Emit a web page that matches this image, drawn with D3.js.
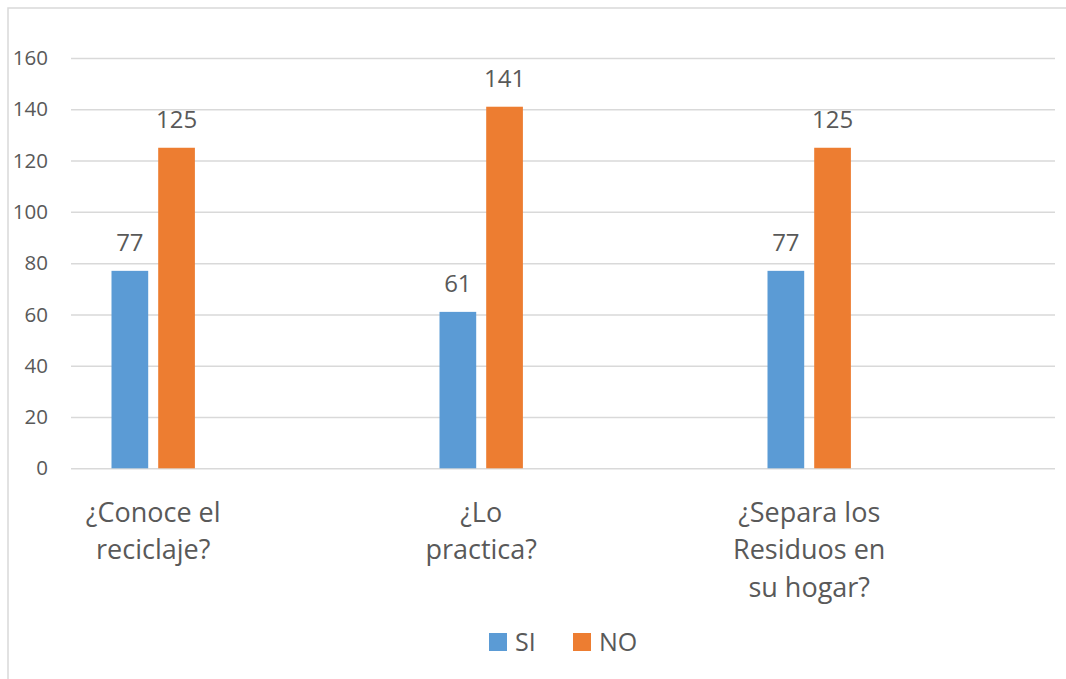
<!DOCTYPE html>
<html>
<head>
<meta charset="utf-8">
<script src="https://cdnjs.cloudflare.com/ajax/libs/d3/7.8.5/d3.min.js"></script>
<style>
  body { margin: 0; background: #fff; }
  svg text { font-family: "Open Sans", sans-serif; fill: #595959; }
</style>
</head>
<body>
<div id="chart"></div>
<script>
// data
var categories = [["¿Conoce el", "reciclaje?"], ["¿Lo", "practica?"], ["¿Separa los", "Residuos en", "su hogar?"]];
var seriesNames = ["SI", "NO"];
var siValues = [77, 61, 77];
var noValues = [125, 141, 125];
var yTicks = [0, 20, 40, 60, 80, 100, 120, 140, 160];
var colors = ["#5B9BD5", "#ED7D31"];

var W = 1066, H = 679;
var plot = { left: 71, right: 1055, top: 58, bottom: 468.3 };

var svg = d3.select("#chart").append("svg")
    .attr("width", W)
    .attr("height", H);

// chart area border (cropped at right and bottom)
svg.append("rect")
    .attr("x", 8).attr("y", 8)
    .attr("width", W + 20).attr("height", H + 20)
    .attr("fill", "#fff")
    .attr("stroke", "#D9D9D9")
    .attr("stroke-width", 1.5);

var catKeys = categories.map(function (c) { return c.join(" "); });

var x0 = d3.scaleBand()                 // one band per question
    .domain(catKeys)
    .range([plot.left, plot.right]);

var groupOffset = 40.5, groupWidth = 83.4;
var x1 = d3.scaleBand()                 // bars inside a group
    .domain(seriesNames)
    .range([0, groupWidth])
    .paddingInner(0.214);

var y = d3.scaleLinear()
    .domain([0, 160])
    .range([plot.bottom, plot.top]);

// gridlines + tick labels
var yaxis = d3.axisLeft(y)
    .tickValues(yTicks)
    .tickSize(-(plot.right - plot.left))
    .tickPadding(23);

var gy = svg.append("g")
    .attr("transform", "translate(" + plot.left + ",0)")
    .call(yaxis);
gy.select(".domain").remove();
gy.selectAll(".tick line").attr("stroke", "#D9D9D9").attr("stroke-width", 1.5);
gy.selectAll(".tick text")
    .attr("font-size", 20.5)
    .attr("fill", "#595959")
    .style("font-family", "'Open Sans', sans-serif");

var rows = catKeys.map(function (k, i) {
    return { key: k, lines: categories[i], values: [siValues[i], noValues[i]] };
});

var groups = svg.selectAll("g.group")
    .data(rows)
    .enter().append("g")
    .attr("class", "group")
    .attr("transform", function (d) { return "translate(" + (x0(d.key) + groupOffset) + ",0)"; });

var bars = groups.selectAll("g.bar")
    .data(function (d) {
        return seriesNames.map(function (s, j) { return { name: s, value: d.values[j], j: j }; });
    })
    .enter().append("g").attr("class", "bar");

bars.append("rect")
    .attr("x", function (d) { return x1(d.name); })
    .attr("y", function (d) { return y(d.value); })
    .attr("width", x1.bandwidth())
    .attr("height", function (d) { return y(0) - y(d.value); })
    .attr("fill", function (d) { return colors[d.j]; });

bars.append("text")                                  // data labels
    .attr("x", function (d) { return x1(d.name) + x1.bandwidth() / 2; })
    .attr("y", function (d) { return y(d.value) - 19.5; })
    .attr("text-anchor", "middle")
    .attr("font-size", 24)
    .attr("fill", "#404040")
    .text(function (d) { return d.value; });

// category labels, wrapped like the original
groups.append("text")
    .attr("text-anchor", "middle")
    .attr("font-size", 27)
    .selectAll("tspan")
    .data(function (d) { return d.lines; })
    .enter().append("tspan")
    .attr("x", groupWidth / 2)
    .attr("y", function (d, i) { return 521.5 + i * 37.5; })
    .text(function (d) { return d; });

// legend
var legend = svg.append("g").attr("transform", "translate(489,633)");
var legendX = [0, 84];
var li = legend.selectAll("g")
    .data(seriesNames)
    .enter().append("g")
    .attr("transform", function (d, i) { return "translate(" + legendX[i] + ",0)"; });
li.append("rect")
    .attr("width", 18).attr("height", 18)
    .attr("fill", function (d, i) { return colors[i]; });
li.append("text")
    .attr("x", 26).attr("y", 18)
    .attr("font-size", 25)
    .text(function (d) { return d; });
</script>
</body>
</html>
